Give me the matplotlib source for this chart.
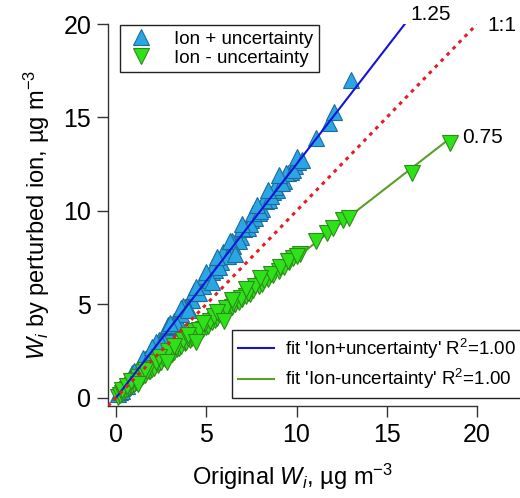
import matplotlib
matplotlib.use("Agg")
import matplotlib.pyplot as plt
import numpy as np

plt.rcParams['font.family'] = ['Liberation Sans', 'DejaVu Sans']
plt.rcParams['mathtext.fontset'] = 'custom'
plt.rcParams['mathtext.rm'] = 'Liberation Sans'
plt.rcParams['mathtext.it'] = 'Liberation Sans:italic'

# Ion + uncertainty
plus_x = [0.1, 0.2, 0.3, 0.4, 0.5, 0.6, 0.7, 0.8, 0.9, 1.0, 1.1, 1.2, 1.3, 1.4, 1.5, 1.6,
          1.8, 1.9, 2.0, 2.1, 2.3, 2.4, 2.5, 2.7, 2.8, 3.0, 3.1, 3.2, 3.4, 3.5, 3.6, 3.8,
          3.9, 4.1, 4.2, 4.4, 4.5, 4.7, 4.8, 5.0, 5.1, 5.3, 5.5, 5.6, 5.8, 6.0, 6.1, 6.3,
          6.5, 6.7, 6.9, 7.1, 7.3, 7.5, 7.7, 7.9, 8.1, 8.3, 8.5, 8.7, 8.9, 9.1, 9.3, 9.5,
          9.7, 9.9, 10.1, 11.1, 11.8, 12.1, 13.0,
          0.3, 0.6, 0.9, 1.2, 1.5, 1.7, 2.2, 2.6, 2.9, 3.3, 3.7, 4.0, 4.3, 4.6, 4.9, 5.2,
          5.4, 5.7, 5.9, 6.2, 6.4, 6.8, 7.0, 7.4, 7.6, 8.0, 8.2, 8.6, 8.8, 9.2, 9.4, 9.8,
          10.0, 10.3,
          1.0, 2.0, 3.0, 3.6, 4.4, 5.0, 5.6, 6.3, 7.0, 7.8, 8.4, 9.0, 2.5, 4.0, 5.3, 6.6]
plus_y = [0.2, 0.3, 0.35, 0.55, 0.6, 0.8, 0.85, 1.05, 1.1, 1.3, 1.35, 1.55, 1.6, 1.8, 1.85, 2.05,
          2.2, 2.45, 2.5, 2.7, 2.85, 3.1, 3.1, 3.45, 3.5, 3.8, 3.85, 4.1, 4.2, 4.5, 4.5, 4.85,
          4.85, 5.2, 5.25, 5.6, 5.6, 6.0, 6.0, 6.35, 6.4, 6.75, 6.85, 7.1, 7.25, 7.6, 7.6, 8.0,
          8.1, 8.5, 8.6, 9.0, 9.1, 9.5, 9.6, 9.9, 10.1, 10.5, 10.6, 11.0, 11.1, 11.5, 11.6, 12.0,
          12.1, 12.4, 12.6, 13.9, 14.7, 15.3, 17.0,
          0.5, 0.6, 1.3, 1.35, 2.1, 2.0, 2.95, 3.1, 3.9, 4.0, 4.9, 4.8, 5.7, 5.6, 6.5, 6.3,
          7.1, 7.0, 7.8, 7.6, 8.4, 8.4, 9.1, 9.3, 9.9, 10.0, 10.6, 10.8, 11.3, 11.5, 12.0, 12.2,
          12.9, 12.7,
          1.4, 2.7, 4.0, 4.8, 5.9, 6.7, 7.5, 8.4, 9.3, 10.3, 11.1, 11.9, 2.9, 4.7, 6.2, 7.7]

# Ion - uncertainty
minus_x = [0.1, 0.2, 0.3, 0.4, 0.5, 0.6, 0.7, 0.8, 0.9, 1.0, 1.1, 1.2, 1.3, 1.4, 1.5, 1.6,
           1.8, 1.9, 2.0, 2.1, 2.3, 2.4, 2.5, 2.7, 2.8, 3.0, 3.1, 3.2, 3.4, 3.5, 3.6, 3.8,
           3.9, 4.1, 4.2, 4.4, 4.5, 4.7, 4.8, 5.0, 5.1, 5.3, 5.5, 5.6, 5.8, 6.0, 6.2, 6.4,
           6.6, 6.8, 7.0, 7.2, 7.4, 7.6, 7.9, 8.1, 8.4, 8.7, 9.0, 9.3, 9.6, 9.8, 10.2, 11.1,
           11.7, 12.0, 12.6, 12.9, 16.4, 18.5,
           0.3, 0.6, 0.9, 1.2, 1.5, 1.7, 2.2, 2.6, 2.9, 3.3, 3.7, 4.0, 4.3, 4.6, 4.9, 5.2,
           5.4, 5.7, 6.1, 6.5, 6.9, 7.3, 7.7, 8.2, 8.6, 9.1, 9.5, 10.0,
           0.8, 1.6, 2.4, 3.2, 4.0, 4.8, 5.6, 6.4, 7.2, 8.0, 1.2, 2.8, 4.4, 6.0]
minus_y = [0.05, 0.15, 0.25, 0.3, 0.4, 0.45, 0.55, 0.6, 0.7, 0.75, 0.85, 0.9, 1.0, 1.05, 1.15, 1.2,
           1.4, 1.45, 1.55, 1.6, 1.75, 1.85, 1.9, 2.05, 2.15, 2.3, 2.35, 2.45, 2.6, 2.65, 2.75, 2.9,
           2.95, 3.1, 3.2, 3.35, 3.4, 3.55, 3.65, 3.8, 3.85, 4.05, 4.15, 4.25, 4.4, 4.5, 4.7, 4.85,
           5.0, 5.1, 5.3, 5.45, 5.55, 5.75, 5.95, 6.1, 6.35, 6.55, 6.8, 7.0, 7.25, 7.45, 7.7, 8.4,
           8.8, 9.1, 9.5, 9.6, 12.0, 13.65,
           0.4, 0.6, 0.9, 1.1, 1.35, 1.45, 1.9, 2.1, 2.5, 2.7, 3.1, 3.2, 3.55, 3.6, 4.0, 4.1,
           4.35, 4.5, 4.8, 5.05, 5.35, 5.6, 5.95, 6.3, 6.6, 7.0, 7.3, 7.6,
           0.9, 1.5, 2.15, 2.75, 3.35, 4.0, 4.6, 5.2, 5.8, 6.4, 0.75, 1.9, 3.0, 4.1]

fit_plus_slope = 1.25
fit_minus_slope = 0.75
fit_plus_range = [0.0, 16.0]
fit_minus_range = [0.0, 18.6]
ticks = [0, 5, 10, 15, 20]

W, H = 520, 498
fig = plt.figure(figsize=(W / 100, H / 100), dpi=100)
ax = fig.add_axes([108 / W, 1 - 406 / H, (477 - 108) / W, (406 - 24) / H])
ax.set_xlim(-0.45, 20)
ax.set_ylim(-0.45, 20)

blue_face = '#2ba6e2'
blue_edge = '#1b6c9c'
green_face = '#2ee21a'
green_edge = '#2f8a1c'

ax.plot(plus_x, plus_y, linestyle='none', marker='^', ms=11, mfc=blue_face, mec=blue_edge,
        mew=0.8, label='Ion + uncertainty', zorder=2)
ax.plot(minus_x, minus_y, linestyle='none', marker='v', ms=11, mfc=green_face, mec=green_edge,
        mew=0.8, label='Ion - uncertainty', zorder=2)

fx = np.array(fit_plus_range)
l1, = ax.plot(fx, fit_plus_slope * fx, color='#1414d8', lw=1.5, zorder=3,
              label="fit 'Ion+uncertainty' R$^2$=1.00")
gx = np.array(fit_minus_range)
l2, = ax.plot(gx, fit_minus_slope * gx, color='#5c9e2a', lw=1.5, zorder=1.5,
              label="fit 'Ion-uncertainty' R$^2$=1.00")
ax.plot([-0.45, 20], [-0.45, 20], color='#e41e26', lw=2.2, linestyle=(0, (1.2, 1.6)), zorder=3)

ax.text(16.3, 20.0, '1.25', fontsize=15, ha='left', va='bottom')
ax.text(20.55, 19.4, '1:1', fontsize=15, ha='left', va='bottom')
ax.text(19.2, 13.4, '0.75', fontsize=15, ha='left', va='bottom')

for s in ['top', 'right']:
    ax.spines[s].set_visible(False)
for s in ['left', 'bottom']:
    ax.spines[s].set_linewidth(1.0)
    ax.spines[s].set_color('#333333')
ax.set_xticks(ticks)
ax.set_yticks(ticks)
ax.tick_params(direction='out', length=8, width=1.0, color='#333333', labelsize=18, pad=4)

ax.set_xlabel('Original $W_i$, µg m$^{-3}$', fontsize=17, labelpad=11)
ax.set_ylabel('$W_i$ by perturbed ion, µg m$^{-3}$', fontsize=17, labelpad=8)

h = ax.get_legend_handles_labels()[0]
leg1 = ax.legend(handles=h[:2], loc='upper left', bbox_to_anchor=(120 / W, 1 - 25 / H),
                 bbox_transform=fig.transFigure, borderaxespad=0, fontsize=13.5,
                 fancybox=False, edgecolor='#222222', framealpha=1, labelspacing=0.1,
                 handletextpad=1.0, borderpad=0.3, handlelength=1.6)
leg1.get_frame().set_linewidth(1.0)
ax.add_artist(leg1)
leg2 = ax.legend(handles=[l1, l2], loc='lower right', bbox_to_anchor=(523 / W, 1 - 398 / H),
                 bbox_transform=fig.transFigure, borderaxespad=0, fontsize=13.5,
                 fancybox=False, edgecolor='#222222', framealpha=1, labelspacing=0.35,
                 handletextpad=0.6, borderpad=0.35, handlelength=1.9)
leg2.get_frame().set_linewidth(1.0)

fig.savefig('out.png', dpi=100)
